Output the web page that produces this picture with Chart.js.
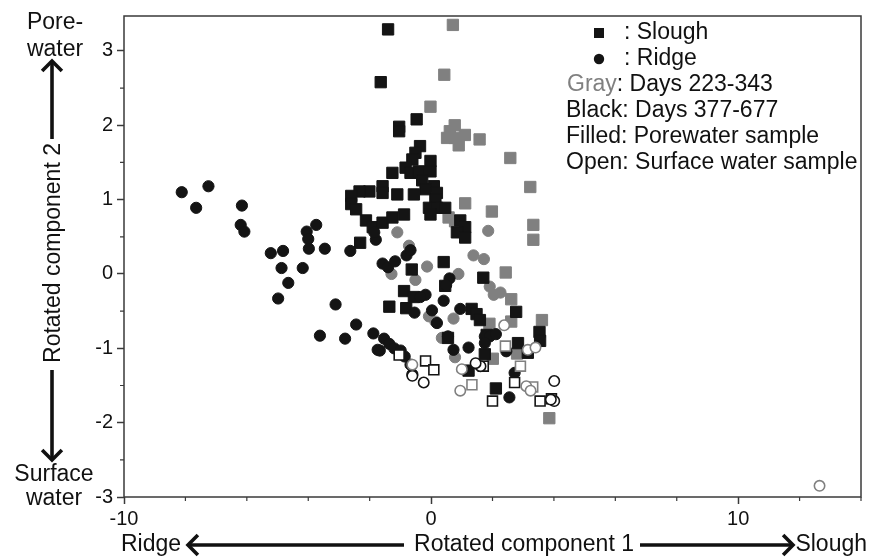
<!DOCTYPE html>
<html>
<head>
<meta charset="utf-8">
<script src="https://cdn.jsdelivr.net/npm/chart.js@4.4.1/dist/chart.umd.min.js"></script>
<style>
html,body{margin:0;padding:0;background:#fff;}
canvas{display:block;}
</style>
</head>
<body>
<canvas id="c" width="870" height="557"></canvas>
<script>
// ---- Data (x = rotated component 1, y = rotated component 2) ----
const sloughLateFilled = [
 [-1.40,3.29],[-1.64,2.58],[-1.04,1.98],[-1.04,1.92],[-0.47,2.08],[-0.36,1.72],[-0.51,1.63],
 [-0.61,1.54],[-0.83,1.43],[-0.67,1.36],[-0.40,1.38],[-0.02,1.52],[-0.02,1.38],[-0.29,1.26],
 [0.09,1.18],[-0.18,1.14],[0.19,1.09],[0.14,1.00],[-0.07,0.89],[0.19,0.89],[0.46,0.89],
 [-0.02,0.80],[-1.26,1.36],[-1.58,1.18],[-1.58,1.09],[-1.10,1.07],[-0.56,1.07],[-2.01,1.11],
 [-2.33,1.11],[-2.60,1.05],[-2.60,0.94],[-2.44,0.87],[-2.12,0.72],[-1.90,0.63],[-1.58,0.69],
 [-1.26,0.76],[-0.88,0.80],[-2.31,0.42],[0.95,0.72],[1.11,0.63],[0.84,0.56],[1.11,0.49],
 [0.41,0.16],[-0.63,0.06],[1.70,-0.05],[0.46,-0.16],[-0.88,-0.23],[-1.36,-0.44],[-0.81,-0.46],
 [1.32,-0.47],[1.48,-0.54],[2.77,-0.51],[1.59,-0.62],[3.53,-0.78],[3.55,-0.90],[3.15,-1.06],
 [2.83,-0.93],[1.81,-0.82],[1.75,-1.08],[1.22,-1.30],[2.11,-1.54],[0.55,-0.86],[-0.56,-0.31]
];
const sloughEarlyFilled = [
 [0.71,3.35],[0.43,2.68],[-0.02,2.25],[0.61,1.92],[0.77,2.00],[1.10,1.87],[0.90,1.73],
 [0.52,1.83],[0.77,1.83],[1.58,1.81],[2.58,1.56],[3.23,1.17],[1.11,0.95],[1.98,0.84],
 [3.33,0.66],[3.33,0.46],[0.57,0.76],[0.78,0.71],[2.43,0.02],[2.61,-0.34],[3.61,-0.62],
 [1.90,-0.67],[2.61,-0.64],[2.80,-1.07],[2.01,-1.14],[3.85,-1.94]
];
const ridgeLateFilled = [
 [-8.12,1.10],[-7.25,1.18],[-7.65,0.89],[-6.16,0.92],[-6.20,0.66],[-6.08,0.57],[-5.22,0.28],
 [-4.82,0.31],[-4.87,0.08],[-4.65,-0.12],[-4.98,-0.33],[-4.18,0.08],[-4.05,0.57],[-3.74,0.66],
 [-4.00,0.47],[-3.98,0.34],[-3.46,0.34],[-3.11,-0.41],[-2.63,0.31],[-2.44,-0.68],[-3.62,-0.83],
 [-2.80,-0.87],[-1.88,-0.80],[-1.67,-1.03],[-1.53,-0.87],[-1.36,-0.94],[-1.20,-1.00],[-0.99,-1.03],
 [-0.86,-1.11],[-0.67,-1.22],[-0.61,-1.35],[-1.80,0.46],[-1.85,0.56],[-1.58,0.14],[-1.40,0.09],
 [-1.17,0.17],[-0.80,0.25],[-0.67,0.32],[0.60,-0.06],[0.49,-0.15],[-0.18,-0.28],[-0.35,-0.31],
 [-0.54,-0.52],[0.41,-0.36],[0.03,-0.49],[0.19,-0.66],[0.95,-0.47],[0.55,-0.84],[0.73,-1.02],
 [1.22,-0.99],[1.75,-0.84],[1.91,-0.84],[2.11,-0.81],[1.75,-0.93],[2.45,-1.04],[2.72,-1.33],
 [2.55,-1.66],[-1.74,-1.02]
];
const ridgeEarlyFilled = [
 [-1.10,0.56],[-0.72,0.38],[-1.29,0.00],[-0.13,0.10],[-0.51,-0.08],[0.89,0.00],[1.38,0.25],
 [1.72,0.20],[1.91,-0.17],[2.26,-0.25],[2.04,-0.28],[0.73,-0.60],[-0.07,-0.57],[0.14,-0.64],
 [0.35,-0.86],[0.78,-1.12],[1.86,0.58]
];
const sloughLateOpen = [
 [-1.04,-1.09],[-0.18,-1.17],[0.09,-1.29],[1.70,-1.24],[2.72,-1.46],[2.00,-1.71],[3.55,-1.71],[3.92,-1.68]
];
const sloughEarlyOpen = [
 [2.91,-1.24],[1.33,-1.49],[2.42,-0.97],[3.31,-1.52]
];
const ridgeLateOpen = [
 [-0.24,-1.46],[4.01,-1.44],[4.01,-1.71],[-0.61,-1.37],[1.61,-1.24],[3.90,-1.69],[1.45,-1.20]
];
const ridgeEarlyOpen = [
 [2.38,-0.69],[3.15,-1.02],[3.40,-0.99],[1.00,-1.28],[0.95,-1.57],[3.10,-1.51],[3.24,-1.57],
 [-0.61,-1.22],[12.65,-2.85]
];
const xTickLabels = [-10, 0, 10];
const yTickLabels = [-3, -2, -1, 0, 1, 2, 3];
const legendLines = [": Slough", ": Ridge", "Gray: Days 223-343", "Black: Days 377-677", "Filled: Porewater sample", "Open: Surface water sample"];

// ---- Styles ----
const BLACK = '#141414';
const GRAY = '#808080';
const FONT = '"Liberation Sans", Arial, Helvetica, sans-serif';
const toPts = a => a.map(p => ({x: p[0], y: p[1]}));

function ds(label, data, shape, color, open) {
  const sq = shape === 'rect';
  return {
    label, data: toPts(data), pointStyle: shape,
    pointRadius: open ? (sq ? 7.0 : 5.2) : (sq ? 8.0 : 5.6),
    pointBorderWidth: open ? 1.6 : 1,
    pointBackgroundColor: open ? '#ffffff' : color,
    pointBorderColor: color,
    showLine: false
  };
}

const datasets = [
  ds('ridgeEarlyOpen', ridgeEarlyOpen, 'circle', GRAY, true),
  ds('ridgeLateOpen', ridgeLateOpen, 'circle', BLACK, true),
  ds('sloughEarlyOpen', sloughEarlyOpen, 'rect', GRAY, true),
  ds('sloughLateOpen', sloughLateOpen, 'rect', BLACK, true),
  ds('ridgeLateFilled', ridgeLateFilled, 'circle', BLACK, false),
  ds('sloughLateFilled', sloughLateFilled, 'rect', BLACK, false),
  ds('ridgeEarlyFilled', ridgeEarlyFilled, 'circle', GRAY, false),
  ds('sloughEarlyFilled', sloughEarlyFilled, 'rect', GRAY, false)
];

function arrow(ctx, x1, y1, x2, y2) {
  const ang = Math.atan2(y2 - y1, x2 - x1);
  const h = 14;
  ctx.save();
  ctx.strokeStyle = '#111';
  ctx.lineWidth = 3.6;
  ctx.lineCap = 'butt';
  ctx.lineJoin = 'miter';
  ctx.beginPath();
  ctx.moveTo(x1, y1);
  ctx.lineTo(x2 - 2 * Math.cos(ang), y2 - 2 * Math.sin(ang));
  ctx.stroke();
  ctx.beginPath();
  ctx.moveTo(x2 - h * Math.cos(ang - Math.PI / 4), y2 - h * Math.sin(ang - Math.PI / 4));
  ctx.lineTo(x2, y2);
  ctx.lineTo(x2 - h * Math.cos(ang + Math.PI / 4), y2 - h * Math.sin(ang + Math.PI / 4));
  ctx.stroke();
  ctx.restore();
}

const decor = {
  id: 'decor',
  afterDraw(chart) {
    const ctx = chart.ctx;
    const a = chart.chartArea;
    const xs = chart.scales.x, ys = chart.scales.y;
    ctx.save();
    ctx.strokeStyle = '#3a3a3a';
    ctx.lineWidth = 1.5;
    ctx.strokeRect(a.left, a.top, a.right - a.left, a.bottom - a.top);
    ctx.lineWidth = 1.2;
    ctx.beginPath();
    for (let v = -8; v <= 14; v += 2) {
      if (v % 10 === 0) continue;
      const px = xs.getPixelForValue(v);
      ctx.moveTo(px, a.bottom); ctx.lineTo(px, a.bottom + 4);
    }
    for (let v = -2.5; v <= 3.5; v += 1) {
      const py = ys.getPixelForValue(v);
      if (py < a.top) continue;
      ctx.moveTo(a.left, py); ctx.lineTo(a.left - 4, py);
    }
    ctx.stroke();

    ctx.fillStyle = '#111';
    ctx.font = '23px ' + FONT;
    ctx.textBaseline = 'middle';
    const ty = 545;
    ctx.textAlign = 'left';
    ctx.fillText('Ridge', 121, ty);
    ctx.textAlign = 'center';
    ctx.fillText('Rotated component 1', 524, ty);
    ctx.textAlign = 'right';
    ctx.fillText('Slough', 867, ty);
    arrow(ctx, 404, ty, 188, ty);
    arrow(ctx, 640, ty, 793, ty);

    ctx.textAlign = 'center';
    ctx.fillText('Pore-', 55, 23);
    ctx.fillText('water', 55, 50);
    ctx.fillText('Surface', 54, 475);
    ctx.fillText('water', 54, 499);
    ctx.save();
    ctx.translate(54, 253);
    ctx.rotate(-Math.PI / 2);
    ctx.fillText('Rotated component 2', 0, 0);
    ctx.restore();
    arrow(ctx, 52, 139, 52, 61);
    arrow(ctx, 52, 370, 52, 460);

    const lx = 599, ly0 = 33, dy = 26;
    ctx.fillStyle = BLACK;
    ctx.fillRect(lx - 5, ly0 - 5, 10, 10);
    ctx.beginPath();
    ctx.arc(lx, ly0 + dy, 5.2, 0, Math.PI * 2);
    ctx.fill();
    ctx.textAlign = 'left';
    ctx.fillStyle = '#111';
    ctx.fillText(legendLines[0], 624, ly0);
    ctx.fillText(legendLines[1], 624, ly0 + dy);
    ctx.fillStyle = GRAY;
    ctx.fillText('Gray', 567, ly0 + 2 * dy);
    const gw = ctx.measureText('Gray').width;
    ctx.fillStyle = '#111';
    ctx.fillText(legendLines[2].slice(4), 567 + gw, ly0 + 2 * dy);
    ctx.fillText(legendLines[3], 566, ly0 + 3 * dy);
    ctx.fillText(legendLines[4], 566, ly0 + 4 * dy);
    ctx.fillText(legendLines[5], 566, ly0 + 5 * dy);
    ctx.restore();
  }
};

new Chart(document.getElementById('c'), {
  type: 'scatter',
  data: {datasets},
  options: {
    responsive: false,
    animation: false,
    layout: {padding: {top: 12, right: 2, left: 0, bottom: 0}},
    plugins: {legend: {display: false}, tooltip: {enabled: false}},
    scales: {
      x: {
        type: 'linear', min: -10, max: 14,
        afterFit(s) { s.height = 60; },
        border: {display: false},
        grid: {drawOnChartArea: false, drawTicks: true, tickLength: 7, tickWidth: 1.5,
               tickColor: c => (c.tick && xTickLabels.includes(c.tick.value)) ? '#3a3a3a' : 'rgba(0,0,0,0)'},
        ticks: {stepSize: 10, includeBounds: false, color: '#111', padding: 3,
                font: {family: FONT, size: 20},
                callback: v => xTickLabels.includes(v) ? String(v) : ''}
      },
      y: {
        type: 'linear', min: -3, max: 3.47,
        afterFit(s) { s.width = 124; },
        border: {display: false},
        grid: {drawOnChartArea: false, drawTicks: true, tickLength: 7, tickWidth: 1.5,
               tickColor: c => (c.tick && yTickLabels.includes(c.tick.value)) ? '#3a3a3a' : 'rgba(0,0,0,0)'},
        ticks: {stepSize: 1, includeBounds: false, color: '#111', padding: 4,
                font: {family: FONT, size: 20},
                callback: v => yTickLabels.includes(v) ? String(v) : ''}
      }
    }
  },
  plugins: [decor]
});
</script>
</body>
</html>
